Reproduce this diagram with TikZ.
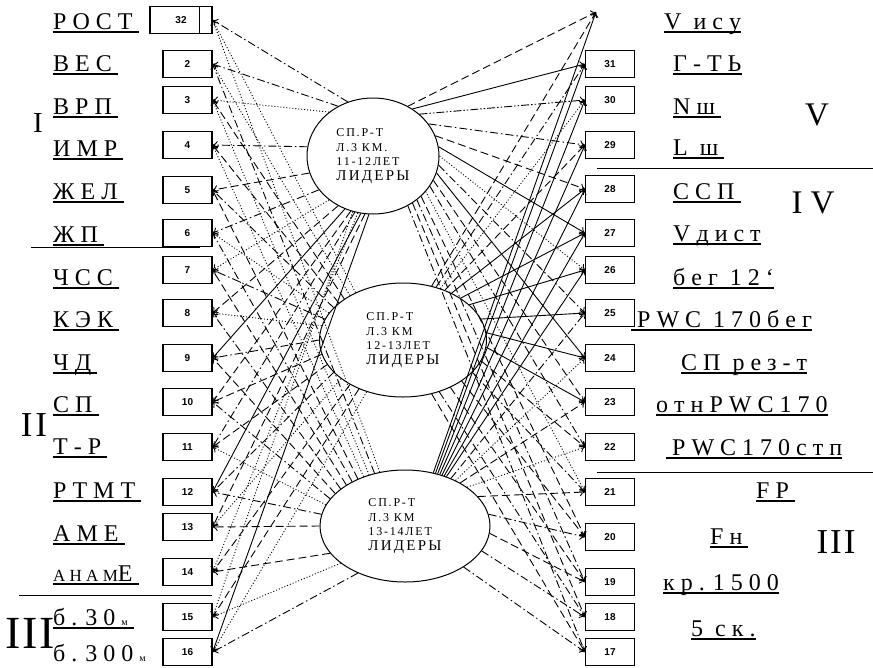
\documentclass[tikz,border=0pt]{standalone}
\usepackage{fontspec}
\setmainfont{Liberation Serif}
\setsansfont{Liberation Sans}
\newfontfamily\trackfont[LetterSpace=15]{Liberation Serif}
\usetikzlibrary{shapes.geometric,arrows.meta}
\newbox\ulbox
\newcommand\ul[1]{\setbox\ulbox\hbox{#1}\rlap{\vrule height -2pt depth 4pt width \wd\ulbox}\box\ulbox}
\newcommand\rn[2]{{\fontsize{#1}{#1}\selectfont #2}}
\begin{document}
\begin{tikzpicture}[x=1pt, y=-1pt,
  box/.style={draw, line width=1.2pt, minimum width=49pt, minimum height=27pt, inner sep=0pt,
    font=\sffamily\bfseries\fontsize{10}{10}\selectfont},
  ell/.style={draw, ellipse, line width=1pt, inner sep=0pt, align=left,
    font=\trackfont\fontsize{12}{14.5}\selectfont},
  lab/.style={anchor=base west, inner sep=0pt, font=\fontsize{24}{24}\selectfont},
  roman/.style={anchor=base, inner sep=0pt},
  link/.style={-{To[length=5pt,width=8pt]}, line width=0.9pt},
  lsolid/.style={link},
  ldashed/.style={link, dash pattern=on 8pt off 4pt},
  ldotted/.style={link, dash pattern=on 1pt off 2pt},
  ldashdot/.style={link, dash pattern=on 8pt off 3pt on 1.5pt off 3pt},
  ldashdotdot/.style={link, dash pattern=on 8pt off 2pt on 1.5pt off 2pt on 1.5pt off 2pt}]
  \useasboundingbox (0,0) rectangle (873,667);

  % ellipses
  \node[ell, minimum width=132pt, minimum height=116pt] (e1) at (373,156)
    {СП.Р-Т\\Л.3 КМ.\\11-12ЛЕТ\\{\fontsize{15}{17}\selectfont ЛИДЕРЫ}};
  \node[ell, minimum width=167pt, minimum height=114pt] (e2) at (403,340)
    {СП.Р-Т\\Л.3 КМ\\12-13ЛЕТ\\{\fontsize{15}{17}\selectfont ЛИДЕРЫ}};
  \node[ell, minimum width=170pt, minimum height=112pt] (e3) at (405,526)
    {СП.Р-Т\\Л.3 КМ\\13-14ЛЕТ\\{\fontsize{15}{17}\selectfont ЛИДЕРЫ}};

  % left boxes
  \node[box, minimum width=62pt] (l32) at (181,20) {32\hspace{26pt}};
  \draw[line width=1.2pt] ([xshift=-13pt]l32.north east) -- ([xshift=-13pt]l32.south east);
  \node[box] (l2) at (187.5,64) {2};
  \node[box] (l3) at (187.5,100) {3};
  \node[box] (l4) at (187.5,145) {4};
  \node[box] (l5) at (187.5,190) {5};
  \node[box] (l6) at (187.5,233) {6};
  \node[box] (l7) at (187.5,270) {7};
  \node[box] (l8) at (187.5,313) {8};
  \node[box] (l9) at (187.5,358) {9};
  \node[box] (l10) at (187.5,402) {10};
  \node[box] (l11) at (187.5,447) {11};
  \node[box] (l12) at (187.5,492) {12};
  \node[box] (l13) at (187.5,527) {13};
  \node[box] (l14) at (187.5,572) {14};
  \node[box] (l15) at (187.5,617) {15};
  \node[box] (l16) at (187.5,652) {16};

  % right boxes
  \coordinate (tv) at (596,12);
  \node[box] (r31) at (610,64) {31};
  \node[box] (r30) at (610,100) {30};
  \node[box] (r29) at (610,145) {29};
  \node[box] (r28) at (610,189) {28};
  \node[box] (r27) at (610,233) {27};
  \node[box] (r26) at (610,270) {26};
  \node[box] (r25) at (610,313) {25};
  \node[box] (r24) at (610,358) {24};
  \node[box] (r23) at (610,402) {23};
  \node[box] (r22) at (610,447) {22};
  \node[box] (r21) at (610,492) {21};
  \node[box] (r20) at (610,537) {20};
  \node[box] (r19) at (610,582) {19};
  \node[box] (r18) at (610,617) {18};
  \node[box] (r17) at (610,652) {17};

  % left labels
  \node[lab] (tl32) at (53,29) {\ul{Р О С Т }};
  \node[lab] (tl2) at (53,71) {\ul{В Е С }};
  \node[lab] (tl3) at (53,114) {\ul{В Р П }};
  \node[lab] (tl4) at (53,156) {\ul{И М Р }};
  \node[lab] (tl5) at (53,199) {\ul{Ж Е Л }};
  \node[lab] (tl6) at (53,242) {\ul{Ж П }};
  \node[lab] (tl7) at (53,285) {\ul{Ч С С }};
  \node[lab] (tl8) at (53,327) {\ul{К Э К }};
  \node[lab] (tl9) at (53,370) {\ul{Ч Д }};
  \node[lab] (tl10) at (53,412) {\ul{С П }};
  \node[lab] (tl11) at (53,454) {\ul{Т - Р }};
  \node[lab] (tl12) at (53,498) {\ul{Р Т М Т }};
  \node[lab] (tl13) at (53,541) {\ul{А М Е }};
  \node[lab] (tl14) at (53,581) {\ul{\rn{17}{А Н А М}Е }};
  \node[lab] (tl15) at (53,625) {\ul{б . 3 0 \rn{10}{м} }};
  \node[lab] (tl16) at (53,661) {б . 3 0 0 \rn{10}{м}};

  % right labels
  \node[lab] (tv1) at (664,29) {\ul{V~ и с у}};
  \node[lab] (tr31) at (673,71) {\ul{Г - Т Ь}};
  \node[lab] (tr30) at (673,114) {\ul{N ш }};
  \node[lab] (tr29) at (673,155) {\ul{L~ ш }};
  \node[lab] (tr28) at (673,199) {\ul{С С П }};
  \node[lab] (tr27) at (673,241) {\ul{V д и с т}};
  \node[lab] (tr26) at (673,285) {\ul{б е г~ 1 2 `}};
  \node[lab] (tr25) at (631,327) {\ul{ P W C~ 1 7 0 б е г}};
  \node[lab] (tr24) at (681,370) {\ul{С П~ р е з - т}};
  \node[lab] (tr23) at (656,412) {\ul{о т н P W C 1 7 0}};
  \node[lab] (tr22) at (666,455) {\ul{ P W C 1 7 0 с т п}};
  \node[lab] (tr21) at (756,498) {\ul{F P }};
  \node[lab] (tr20) at (710,544) {\ul{F н }};
  \node[lab] (tr19) at (663,590) {\ul{к р . 1 5 0 0}};
  \node[lab] (tr18) at (691,636) {\ul{5~ с к .}};

  % group numerals and separators
  \node[roman] at (38,132) {\rn{29}{I}};
  \node[roman] at (34,436) {\rn{35}{I\kern3pt I}};
  \node[roman] at (30,648) {\rn{46}{I\kern2pt I\kern2pt I}};
  \node[roman] at (817,125) {\rn{33}{V}};
  \node[roman] at (813,213) {\rn{33}{I\kern8pt V}};
  \node[roman] at (836,553) {\rn{35}{I\kern2pt I\kern2pt I}};
  \draw[line width=0.8pt] (31,247) -- (200,247);
  \draw[line width=0.8pt] (19,595) -- (212,595);
  \draw[line width=0.8pt] (597,168) -- (873,168);
  \draw[line width=0.8pt] (597,472) -- (873,472);

  % links to the left boxes
  \draw[ldashdot] (e1.115) -- (l32.east);
  \draw[ldashdot] (e1.125) -- (l2.east);
  \draw[ldotted] (e1.135) -- (l3.east);
  \draw[ldashdot] (e1.172) -- (l4.east);
  \draw[ldashed] (e1.195) -- (l5.east);
  \draw[ldashdot] (e1.212) -- (l6.east);
  \draw[ldotted] (e1.225) -- (l7.east);
  \draw[ldashed] (e1.235) -- (l8.east);
  \draw[lsolid] (e1.242) -- (l9.east);
  \draw[ldashed] (e1.248) -- (l10.east);
  \draw[ldashdot] (e1.252) -- (l11.east);
  \draw[lsolid] (e1.258) -- (l12.east);
  \draw[ldashed] (e1.262) -- (l13.east);
  \draw[ldotted] (e1.255) -- (l14.east);
  \draw[ldotted] (e1.250) -- (l15.east);
  \draw[lsolid] (e1.266) -- (l16.east);

  \draw[ldotted] (e2.135) -- (l32.east);
  \draw[ldotted] (e2.140) -- (l2.east);
  \draw[ldashed] (e2.145) -- (l3.east);
  \draw[ldashed] (e2.150) -- (l4.east);
  \draw[ldashdot] (e2.155) -- (l5.east);
  \draw[ldotted] (e2.160) -- (l6.east);
  \draw[ldashdot] (e2.165) -- (l7.east);
  \draw[ldotted] (e2.170) -- (l8.east);
  \draw[ldashdot] (e2.180) -- (l9.east);
  \draw[ldashed] (e2.190) -- (l10.east);
  \draw[ldashed] (e2.198) -- (l11.east);
  \draw[ldashdot] (e2.205) -- (l12.east);
  \draw[ldotted] (e2.212) -- (l13.east);
  \draw[ldashed] (e2.220) -- (l14.east);
  \draw[ldashed] (e2.228) -- (l15.east);
  \draw[ldotted] (e2.235) -- (l16.east);

  \draw[ldotted] (e3.115) -- (l32.east);
  \draw[ldashdot] (e3.120) -- (l2.east);
  \draw[ldotted] (e3.125) -- (l3.east);
  \draw[ldotted] (e3.130) -- (l4.east);
  \draw[ldashed] (e3.135) -- (l5.east);
  \draw[ldashdot] (e3.140) -- (l6.east);
  \draw[ldashed] (e3.145) -- (l7.east);
  \draw[ldashdot] (e3.150) -- (l8.east);
  \draw[ldashed] (e3.155) -- (l9.east);
  \draw[ldashdot] (e3.160) -- (l10.east);
  \draw[ldotted] (e3.165) -- (l11.east);
  \draw[ldashdot] (e3.172) -- (l12.east);
  \draw[ldashed] (e3.180) -- (l13.east);
  \draw[ldashed] (e3.200) -- (l14.east);
  \draw[ldotted] (e3.210) -- (l15.east);
  \draw[ldashdot] (e3.225) -- (l16.east);

  % links to the right boxes
  \draw[ldashed] (e1.55) -- (tv);
  \draw[lsolid] (e1.50) -- (r31.west);
  \draw[ldashdotdot] (e1.42) -- (r30.west);
  \draw[ldashdot] (e1.30) -- (r29.west);
  \draw[ldashed] (e1.18) -- (r28.west);
  \draw[lsolid] (e1.8) -- (r27.west);
  \draw[ldotted] (e1.0) -- (r26.west);
  \draw[ldashdot] (e1.352) -- (r25.west);
  \draw[lsolid] (e1.345) -- (r24.west);
  \draw[ldashed] (e1.338) -- (r23.west);
  \draw[ldashdot] (e1.332) -- (r22.west);
  \draw[ldotted] (e1.326) -- (r21.west);
  \draw[ldashed] (e1.320) -- (r20.west);
  \draw[ldashdot] (e1.315) -- (r19.west);
  \draw[ldashed] (e1.310) -- (r18.west);
  \draw[ldashdot] (e1.305) -- (r17.west);

  \draw[ldashed] (e2.62) -- (tv);
  \draw[ldashdot] (e2.58) -- (r31.west);
  \draw[ldotted] (e2.54) -- (r30.west);
  \draw[ldashed] (e2.50) -- (r29.west);
  \draw[lsolid] (e2.44) -- (r28.west);
  \draw[lsolid] (e2.36) -- (r27.west);
  \draw[lsolid] (e2.28) -- (r26.west);
  \draw[lsolid] (e2.15) -- (r25.west);
  \draw[lsolid] (e2.5) -- (r24.west);
  \draw[lsolid] (e2.355) -- (r23.west);
  \draw[ldashed] (e2.345) -- (r22.west);
  \draw[ldashdot] (e2.335) -- (r21.west);
  \draw[ldashed] (e2.325) -- (r20.west);
  \draw[ldashed] (e2.315) -- (r19.west);
  \draw[ldashdot] (e2.305) -- (r18.west);
  \draw[ldashed] (e2.298) -- (r17.west);

  \draw[lsolid] (e3.62) -- (tv);
  \draw[lsolid] (e3.60) -- (r31.west);
  \draw[lsolid] (e3.58) -- (r30.west);
  \draw[lsolid] (e3.56) -- (r29.west);
  \draw[lsolid] (e3.54) -- (r28.west);
  \draw[lsolid] (e3.52) -- (r27.west);
  \draw[lsolid] (e3.50) -- (r26.west);
  \draw[ldashdot] (e3.46) -- (r25.west);
  \draw[ldotted] (e3.42) -- (r24.west);
  \draw[ldashed] (e3.38) -- (r23.west);
  \draw[ldotted] (e3.32) -- (r22.west);
  \draw[ldashed] (e3.22) -- (r21.west);
  \draw[ldashdot] (e3.8) -- (r20.west);
  \draw[ldashed] (e3.355) -- (r19.west);
  \draw[ldashdot] (e3.342) -- (r18.west);
  \draw[ldashdot] (e3.325) -- (r17.west);
\end{tikzpicture}
\end{document}
